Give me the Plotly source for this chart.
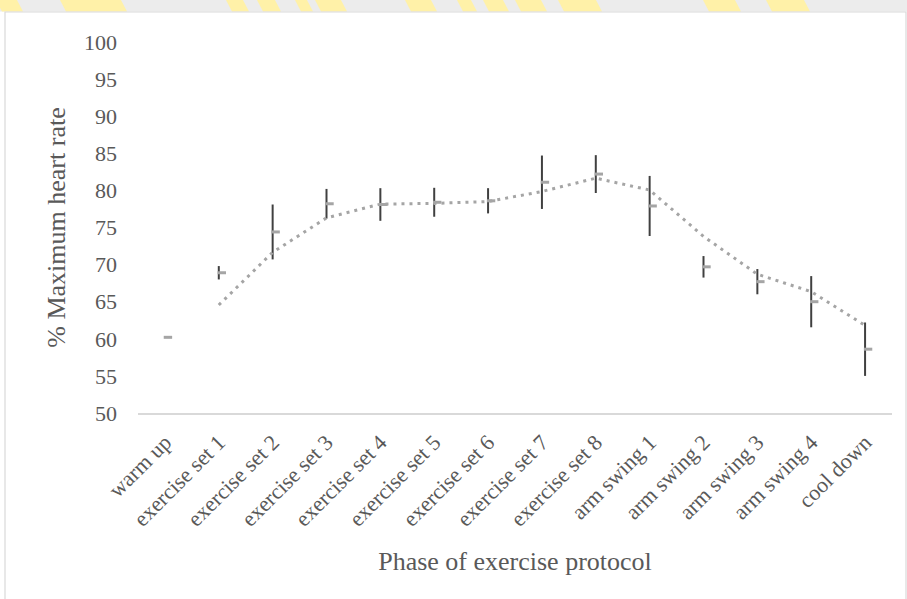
import plotly.graph_objects as go

# Phases of the exercise protocol
phases = [
    "warm up", "exercise set 1", "exercise set 2", "exercise set 3",
    "exercise set 4", "exercise set 5", "exercise set 6", "exercise set 7",
    "exercise set 8", "arm swing 1", "arm swing 2", "arm swing 3",
    "arm swing 4", "cool down",
]
# Mean % of maximum heart rate and its spread for each phase
mean_hr = [60.2, 68.9, 74.4, 78.2, 78.1, 78.4, 78.6, 81.1, 82.2, 77.9, 69.7, 67.7, 65.0, 58.6]
sd_hr = [0.0, 0.9, 3.7, 2.0, 2.2, 1.95, 1.7, 3.6, 2.55, 4.05, 1.45, 1.7, 3.45, 3.6]

y_ticks = [50, 55, 60, 65, 70, 75, 80, 85, 90, 95, 100]

# Two-period moving average trendline
ma_x = phases[1:]
ma_y = [(a + b) / 2 for a, b in zip(mean_hr[:-1], mean_hr[1:])]

FONT = "Liberation Serif, Times New Roman, serif"
GREY_TXT = "#595959"

W, H = 907, 599
M_L, M_R, M_T, M_B = 138, 15, 42, 186
PW, PH = W - M_L - M_R, H - M_T - M_B
N = len(phases)
# the dash markers sit a few pixels right of their error bars
MARK_SHIFT = 3 / (PW / N)


def px(x):
    return (x - M_L) / PW


def py(y):
    return (H - M_B - y) / PH


fig = go.Figure()

# error bars
fig.add_trace(go.Scatter(
    x=phases, y=mean_hr, mode="markers",
    marker=dict(size=1, opacity=0),
    error_y=dict(type="data", array=sd_hr, visible=True,
                 color="#404040", thickness=2, width=0),
    showlegend=False, hoverinfo="skip",
))

# mean markers
fig.add_trace(go.Scatter(
    x=phases, y=mean_hr, mode="markers", xaxis="x2",
    marker=dict(symbol="line-ew", size=6, color="#A5A5A5",
                line=dict(color="#A5A5A5", width=3)),
    showlegend=False, hoverinfo="x+y",
))

fig.add_trace(go.Scatter(
    x=ma_x, y=ma_y, mode="lines",
    line=dict(color="#A5A5A5", width=3, dash="3px,5px"),
    showlegend=False, hoverinfo="skip",
))

shapes = []
# header band with faint yellow lettering strokes
shapes.append(dict(type="rect", xref="paper", yref="paper",
                   x0=px(0), x1=px(W), y0=py(11.5), y1=py(0),
                   fillcolor="#ECECEC", line=dict(width=0), layer="below"))
strokes = [(-4, 17), (60, 121), (226, 243), (257, 275), (295, 307), (315, 341),
           (405, 431), (457, 471), (483, 503), (515, 541), (558, 596),
           (703, 735), (766, 804)]
for a, b in strokes:
    path = "M {},{} L {},{} L {},{} L {},{} Z".format(
        px(a), py(0), px(b), py(0), px(b + 6), py(11.5), px(a + 6), py(11.5))
    shapes.append(dict(type="path", xref="paper", yref="paper", path=path,
                       fillcolor="#FFF1A8", line=dict(width=0), layer="below"))
# chart frame
shapes.append(dict(type="rect", xref="paper", yref="paper",
                   x0=px(5), x1=px(906), y0=py(605), y1=py(12),
                   fillcolor="white", line=dict(color="#D9D9D9", width=1.2),
                   layer="below"))

fig.update_layout(
    width=W, height=H,
    margin=dict(l=M_L, r=M_R, t=M_T, b=M_B),
    paper_bgcolor="white", plot_bgcolor="rgba(0,0,0,0)",
    font=dict(family=FONT, color=GREY_TXT, size=22),
    shapes=shapes,
    xaxis=dict(
        type="category", tickangle=-45, showgrid=False, zeroline=False,
        showline=True, linecolor="#D9D9D9", linewidth=1.5, ticks="",
        ticklabelstandoff=6,
        tickfont=dict(family=FONT, size=22, color=GREY_TXT),
        title=dict(text="Phase of exercise protocol", standoff=22,
                   font=dict(family=FONT, size=26, color=GREY_TXT)),
        range=[-0.5, N - 0.5],
    ),
    xaxis2=dict(
        type="category", overlaying="x", visible=False,
        categoryorder="array", categoryarray=phases,
        range=[-0.5 - MARK_SHIFT, N - 0.5 - MARK_SHIFT],
    ),
    yaxis=dict(
        range=[50, 100], tickvals=y_ticks, showgrid=False, zeroline=False,
        showline=False, ticks="", ticklabelstandoff=20,
        tickfont=dict(family=FONT, size=22, color=GREY_TXT),
        title=dict(text="% Maximum heart rate", standoff=10,
                   font=dict(family=FONT, size=26, color=GREY_TXT)),
    ),
)

fig.write_html("out.html")
